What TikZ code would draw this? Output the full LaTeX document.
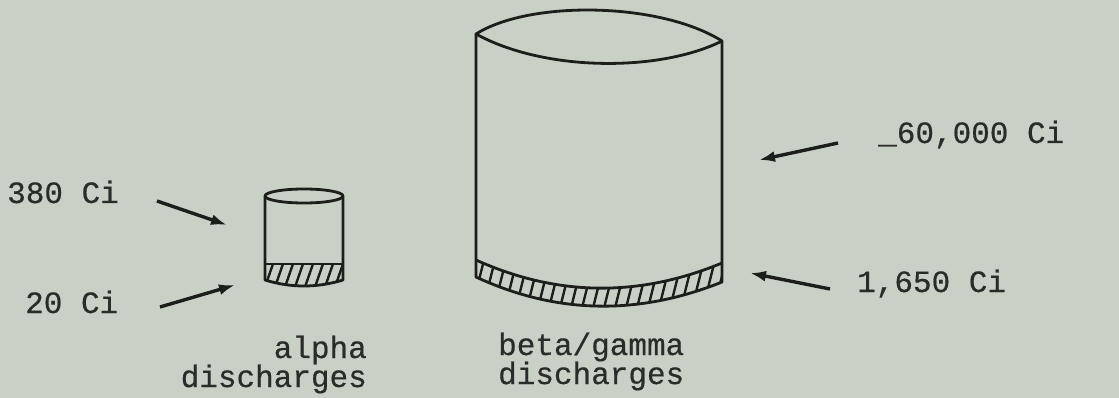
\documentclass[tikz,border=0pt]{standalone}
\usepackage{fontspec}
\setmonofont[FakeBold=0.5]{Liberation Mono}
\usepackage{xcolor}
\usepackage{tikz}
\usetikzlibrary{arrows.meta}
\definecolor{Paper}{HTML}{C9D1C6}
\definecolor{Ink}{HTML}{1C1E1C}
\definecolor{TypeInk}{HTML}{2A2C2A}

\begin{document}
\begin{tikzpicture}[
  x=1pt, y=-1pt,
  lbl/.style={inner sep=0pt, text=TypeInk,
    font=\ttfamily\fontsize{31}{29}\selectfont},
  outline/.style={draw=Ink, line width=2.8pt, line join=round},
  hatch/.style={draw=Ink, line width=2.4pt},
  pointer/.style={-{Latex[length=16pt, width=11pt]}, line width=3.4pt, draw=Ink}
]
  \useasboundingbox (0,0) rectangle (1119,398);
  \fill[Paper] (0,0) rectangle (1119,398);

  % small drum (alpha)
  \begin{scope}
    \clip (265,264) -- (343,264) -- (343,280)
      .. controls (317,288) and (291,288) .. (265,280) -- cycle;
    \foreach \x in {255,265,...,355}
      \draw[hatch] (\x,287) -- (\x+9,261);
  \end{scope}
  \draw[outline] (304,196) ellipse [x radius=39, y radius=7];
  \draw[outline] (265,196) -- (265,280)
    .. controls (291,288) and (317,288) .. (343,280) -- (343,196);
  \draw[outline] (265,264) -- (343,264);

  % large drum (beta/gamma)
  \begin{scope}
    \clip (476,260) .. controls (558,297) and (640,297) .. (722,263)
      -- (722,282) .. controls (640,315) and (558,315) .. (476,277) -- cycle;
    \foreach \x in {460,471,...,740}
      \draw[hatch] (\x,312) -- (\x+14,256);
  \end{scope}
  \draw[outline] (476,34) .. controls (530,0) and (660,2) .. (722,41)
    .. controls (660,72) and (545,72) .. (476,34) -- cycle;
  \draw[outline] (476,34) -- (476,277)
    .. controls (558,315) and (640,315) .. (722,282) -- (722,41);
  \draw[outline] (476,260) .. controls (558,297) and (640,297) .. (722,263);

  % labels
  \node[lbl, anchor=base west] (alphaTotal) at (7,203) {380 Ci};
  \node[lbl, anchor=base west] (alphaSludge) at (25,313) {20 Ci};
  \node[lbl, anchor=base west] (betaTotal) at (878,143) {\_60,000 Ci};
  \node[lbl, anchor=base west] (betaSludge) at (857,292) {1,650 Ci};
  \node[lbl, anchor=base east, align=right] (alphaName) at (367,387) {alpha\\discharges};
  \node[lbl, anchor=base west, align=left] (betaName) at (498,384) {beta/gamma\\discharges};

  % pointer ends
  \coordinate (t380) at (157,201);
  \coordinate (h380) at (227,225);
  \coordinate (t20) at (160,307);
  \coordinate (h20) at (235,285);
  \coordinate (t60k) at (838,143);
  \coordinate (h60k) at (759,160);
  \coordinate (t1650) at (830,289);
  \coordinate (h1650) at (750,273);

  \draw[pointer] (t380) -- (h380);
  \draw[pointer] (t20) -- (h20);
  \draw[pointer] (t60k) -- (h60k);
  \draw[pointer] (t1650) -- (h1650);
\end{tikzpicture}
\end{document}
